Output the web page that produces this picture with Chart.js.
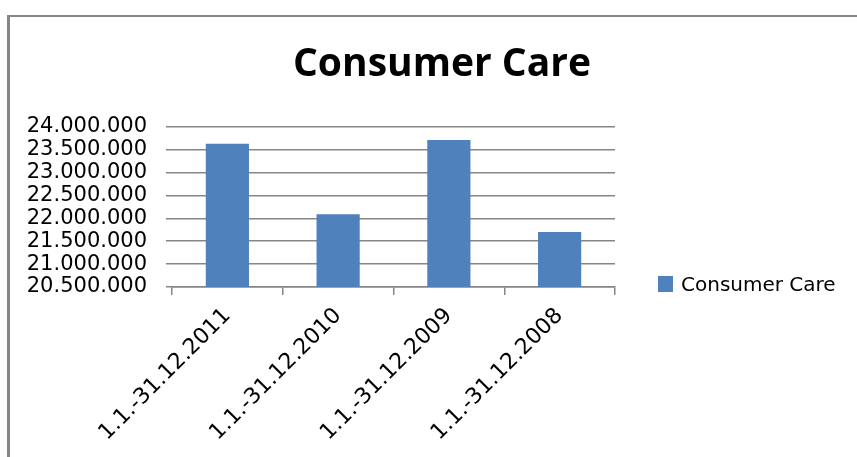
<!DOCTYPE html>
<html>
<head>
<meta charset="utf-8">
<script src="https://cdn.jsdelivr.net/npm/chart.js@4.4.0/dist/chart.umd.min.js"></script>
<style>
  body { margin: 0; background: #fff; }
  #wrap { position: relative; width: 857px; height: 457px; }
  #frame { position: absolute; left: 7px; top: 15px; right: 0; bottom: 0;
           border-top: 2px solid #868686; border-left: 3px solid #868686; }
  #legend { position: absolute; left: 658px; top: 272px; display: flex; align-items: center;
            font-family: "DejaVu Sans"; font-size: 20px; color: #000; }
  #legend span.box { display: inline-block; width: 15px; height: 16px; background: #4F81BD; margin-right: 8px; }
</style>
</head>
<body>
<div id="wrap">
  <div id="frame"></div>
  <canvas id="mainChart"></canvas>
  <div id="legend"><span class="box"></span><span>Consumer Care</span></div>
</div>
<script>
// data
let periods = ["1.1.-31.12.2011", "1.1.-31.12.2010", "1.1.-31.12.2009", "1.1.-31.12.2008"];
let consumerCare = [23630000, 22090000, 23710000, 21700000];
let seriesName = "Consumer Care";
let chartTitle = "Consumer Care";
let yMin = 20500000, yMax = 24000000, yStep = 500000;

function dotted(v) {
    return String(v).replace(/\B(?=(\d{3})+(?!\d))/g, ".");
}

let canvasBar = document.getElementById("mainChart");
new Chart(canvasBar, {
    type: 'bar',
    data: {
        labels: periods,
        datasets: [{
            label: seriesName,
            data: consumerCare,
            backgroundColor: '#4F81BD',
            categoryPercentage: 1,
            barPercentage: 0.39
        }]
    },
    options: {
        responsive: true,
        maintainAspectRatio: false,
        animation: false,
        layout: { padding: { left: 27, right: 0, top: 0, bottom: 0 } },
        plugins: {
            legend: { display: false },
            tooltip: { enabled: false },
            title: {
                display: true,
                text: chartTitle,
                color: '#000',
                font: { family: 'Open Sans', size: 39, weight: 'bold' },
                padding: { top: 41, bottom: 39 }
            }
        },
        scales: {
            x: {
                grid: { drawOnChartArea: false, drawTicks: true, tickLength: 8, color: '#868686', lineWidth: 1.5 },
                border: { display: true, color: '#868686', width: 1.5 },
                ticks: {
                    color: '#000', font: { family: 'DejaVu Sans', size: 22 },
                    minRotation: 45, maxRotation: 45, autoSkip: false, padding: 8
                },
                afterFit: function (s) { s.height = 170; }
            },
            y: {
                min: yMin, max: yMax,
                grid: { color: '#868686', lineWidth: 1.5, tickLength: 6 },
                border: { display: false },
                ticks: {
                    stepSize: yStep, autoSkip: false, padding: 19,
                    color: '#000', font: { family: 'DejaVu Sans', size: 21 },
                    callback: function (v) { return dotted(v); }
                },
                afterFit: function (s) { s.width = 145; }
            },
            // empty axis that keeps room for the legend on the right
            y2: {
                position: 'right',
                grid: { display: false },
                border: { display: false },
                ticks: { display: false },
                afterFit: function (s) { s.width = 242; }
            }
        }
    }
});
</script>
</body>
</html>
